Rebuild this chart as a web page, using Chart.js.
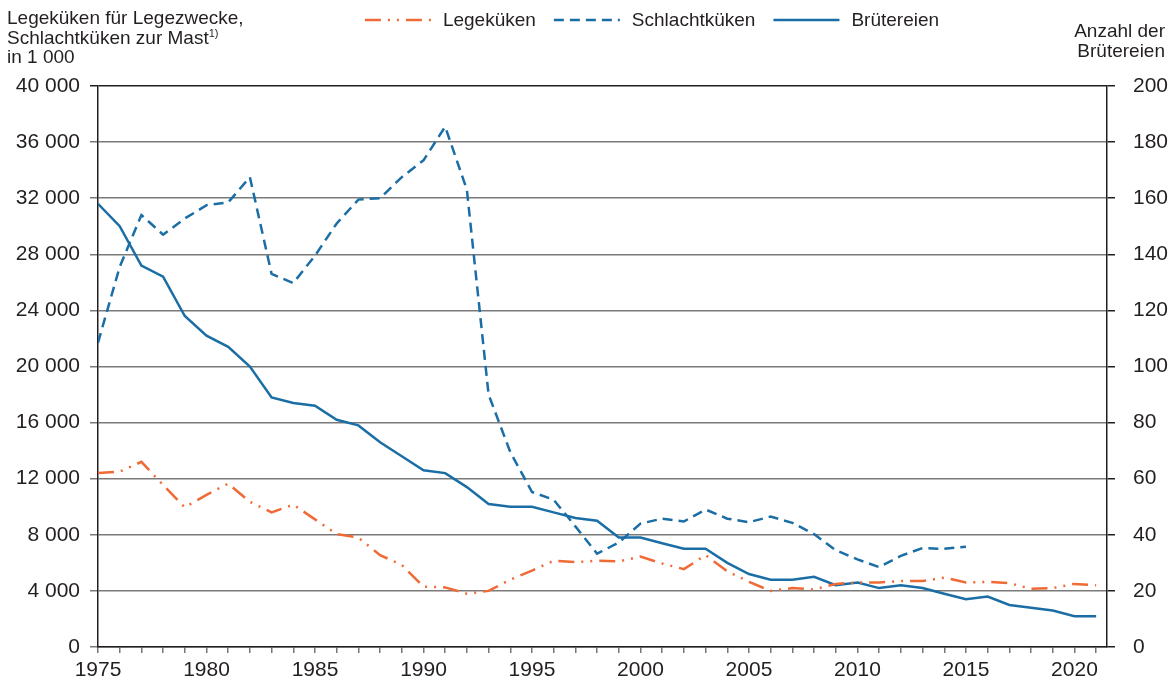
<!DOCTYPE html>
<html>
<head>
<meta charset="utf-8">
<script src="https://cdn.jsdelivr.net/npm/chart.js@4/dist/chart.umd.min.js"></script>
<style>
  body { margin: 0; background: #fff; }
  #wrap { position: relative; width: 1174px; height: 686px; font-family: Arial, "Liberation Sans", sans-serif; color: #231f20; }
  .titel { position: absolute; font-size: 19px; line-height: 19.5px; }
  .titel sup { font-size: 11px; line-height: 0; vertical-align: 7px; }
</style>
</head>
<body>
<div id="wrap">
  <canvas id="myChart" width="1174" height="686"></canvas>
  <div class="titel" style="left:7px; top:8px;">Legeküken für Legezwecke,<br>Schlachtküken zur Mast<sup>1)</sup><br>in 1 000</div>
  <div class="titel" style="right:9px; top:21px; text-align:right;">Anzahl der<br>Brütereien</div>
</div>
<script>
const jahre = [];
for (let j = 1975; j <= 2021; j++) jahre.push(j);

// Legeküken für Legezwecke (in 1 000), 1975-2021
const legekueken = [
  12400, 12500, 13200, 11550, 9950, 10850, 11650, 10350, 9600, 10150,
  9100, 8050, 7800, 6550, 5850, 4300, 4250, 3800, 4000, 4800,
  5450, 6150, 6050, 6150, 6100, 6450, 5950, 5550, 6550, 5400,
  4650, 4000, 4200, 4100, 4500, 4600, 4600, 4700, 4700, 4950,
  4600, 4650, 4550, 4150, 4200, 4500, 4400
];

// Schlachtküken zur Mast (in 1 000), 1975-2015
const schlachtkueken = [
  21700, 27100, 30800, 29400, 30550, 31500, 31700, 33500, 26600, 25950,
  27900, 30200, 31900, 32000, 33500, 34700, 37100, 32600, 18000, 13900,
  11050, 10500, 8600, 6650, 7450, 8800, 9150, 8950, 9800, 9150,
  8900, 9300, 8850, 8050, 6900, 6250, 5700, 6500, 7050, 7000,
  7150
];

// Anzahl der Brütereien, 1975-2021
const bruetereien = [
  158, 150, 136, 132, 118, 111, 107, 100, 89, 87,
  86, 81, 79, 73, 68, 63, 62, 57, 51, 50,
  50, 48, 46, 45, 39, 39, 37, 35, 35, 30,
  26, 24, 24, 25, 22, 23, 21, 22, 21, 19,
  17, 18, 15, 14, 13, 11, 11
];

const textFarbe = '#231f20';
const orange = '#ef6a35';
const blau = '#1a6ea5';
const schrift = 'Arial, "Liberation Sans", sans-serif';

function punkte(werte){
  return werte.map((w, i) => ({ x: jahre[i], y: w }));
}

function tausender(wert){
  return String(wert).replace(/\B(?=(\d{3})+(?!\d))/g, ' ');
}

// Legende oben mittig, selbst gezeichnet
const legendePlugin = {
  id: 'legende',
  afterDraw(chart){
    const c = chart.ctx;
    const mustLaenge = 66, abstandText = 12, abstandEintrag = 18;
    c.save();
    c.font = '19px ' + schrift;
    c.textBaseline = 'middle';
    const eintraege = chart.data.datasets.map(ds => ({
      ds: ds, breite: mustLaenge + abstandText + c.measureText(ds.label).width
    }));
    const gesamt = eintraege.reduce((s, e) => s + e.breite, 0) + abstandEintrag * (eintraege.length - 1);
    let x = 652 - gesamt / 2;
    const y = 20;
    eintraege.forEach(e => {
      c.beginPath();
      c.strokeStyle = e.ds.borderColor;
      c.lineWidth = e.ds.borderWidth;
      c.setLineDash(e.ds.borderDash || []);
      c.moveTo(x, y);
      c.lineTo(x + mustLaenge, y);
      c.stroke();
      c.setLineDash([]);
      c.fillStyle = textFarbe;
      c.fillText(e.ds.label, x + mustLaenge + abstandText, y + 1);
      x += e.breite + abstandEintrag;
    });
    c.restore();
  }
};

const ctx = document.getElementById('myChart').getContext('2d');
const grafico = new Chart(ctx, {
  type: 'line',
  data: {
    datasets: [
      {
        label: 'Legeküken',
        data: punkte(legekueken),
        borderColor: orange,
        borderWidth: 2.5,
        borderDash: [16, 7, 2, 7, 2, 7],
        yAxisID: 'y'
      },
      {
        label: 'Schlachtküken',
        data: punkte(schlachtkueken),
        borderColor: blau,
        borderWidth: 2.5,
        borderDash: [10, 6],
        yAxisID: 'y'
      },
      {
        label: 'Brütereien',
        data: punkte(bruetereien),
        borderColor: blau,
        borderWidth: 2.5,
        yAxisID: 'y2'
      }
    ]
  },
  options: {
    responsive: false,
    animation: false,
    devicePixelRatio: 1,
    layout: { padding: { top: 86, left: 0, right: 0, bottom: 0 } },
    elements: { point: { radius: 0 }, line: { tension: 0, borderCapStyle: 'butt' } },
    plugins: { legend: { display: false }, tooltip: { enabled: false } },
    scales: {
      x: {
        type: 'linear',
        min: 1975,
        max: 2021.5,
        afterBuildTicks(scale){
          scale.ticks = jahre.map(j => ({ value: j }));
        },
        afterFit(scale){ scale.height = 39; },
        ticks: {
          autoSkip: false,
          maxRotation: 0,
          padding: 5,
          color: textFarbe,
          font: { family: schrift, size: 21 },
          callback: v => (v % 5 === 0 ? String(v) : '')
        },
        grid: { drawOnChartArea: false, drawTicks: true, tickLength: 6, color: '#777', lineWidth: 1.5 },
        border: { display: true, color: '#231f20', width: 1.5 }
      },
      y: {
        position: 'left',
        min: 0,
        max: 40000,
        afterFit(scale){ scale.width = 98; },
        ticks: {
          stepSize: 4000,
          padding: 10,
          color: textFarbe,
          font: { family: schrift, size: 21 },
          callback: v => tausender(v)
        },
        grid: {
          tickLength: 8,
          lineWidth: 1.5,
          color: c => (c.tick && c.tick.value === 40000 ? '#231f20' : '#7a7a7a')
        },
        border: { display: true, color: '#231f20', width: 1.5 }
      },
      y2: {
        position: 'right',
        min: 0,
        max: 200,
        afterFit(scale){ scale.width = 67; },
        ticks: {
          stepSize: 20,
          padding: 18,
          color: textFarbe,
          font: { family: schrift, size: 21 }
        },
        grid: { drawOnChartArea: false, tickLength: 8, lineWidth: 1.5, color: '#231f20' },
        border: { display: true, color: '#231f20', width: 1.5 }
      }
    }
  },
  plugins: [legendePlugin]
});
</script>
</body>
</html>
